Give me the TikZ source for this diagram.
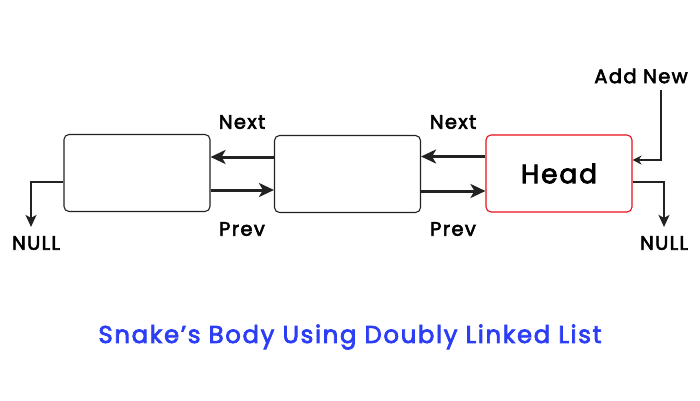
\documentclass[tikz,border=0pt]{standalone}
\usepackage{fontspec}
\setmainfont{Poppins}
\newfontfamily\lblfont[LetterSpace=7,FakeBold=3]{Poppins}
\usetikzlibrary{arrows.meta}
\definecolor{ttl}{HTML}{2B3DF5}
\definecolor{hd}{HTML}{E8101A}
\definecolor{ln}{HTML}{222222}
\tikzset{
  x=1pt,y=-1pt,
  nodebox/.style={draw=ln,line width=1.1pt,rounded corners=5pt,minimum width=146pt,minimum height=77pt,inner sep=0pt},
  headbox/.style={nodebox,draw=hd},
  bigarrow/.style={draw=ln,line width=3pt,-{Stealth[length=15pt,width=14pt,inset=4pt]}},
  thinarrow/.style={draw=ln,line width=2pt,-{Stealth[length=12pt,width=11pt,inset=3pt]}},
  addarrow/.style={draw=ln,line width=1.8pt,-{Stealth[length=9pt,width=9pt]}},
  lbl/.style={font=\lblfont\fontsize{19.5}{23}\selectfont,text=black,inner sep=0pt},
}
\begin{document}
\begin{tikzpicture}
\useasboundingbox (0,0) rectangle (700,400);
\node[nodebox] (b1) at (137,173) {};
\node[nodebox] (b2) at (347.5,174) {};
\node[headbox] (hd) at (559,173.5) {\lblfont\fontsize{26.5}{32}\selectfont Head};
% next / prev arrows
\draw[bigarrow] ([yshift=17pt]b2.west) -- ([yshift=17pt]b2.west -| b1.east);
\draw[bigarrow] ([yshift=-17pt]b1.east) -- ([yshift=-17pt]b1.east -| b2.west);
\draw[bigarrow] ([yshift=17pt]hd.west) -- ([yshift=17pt]hd.west -| b2.east);
\draw[bigarrow] ([yshift=-17pt]b2.east) -- ([yshift=-17pt]b2.east -| hd.west);
\node[lbl] (n1) at (242,122) {Next};
\node[lbl] (p1) at (242,229) {Prev};
\node[lbl] (n2) at (453,122) {Next};
\node[lbl] (p2) at (453,229) {Prev};
% left NULL
\node[lbl] (nl) at (36,243) {NULL};
\coordinate (lc) at (31,182);
\draw[thinarrow] (lc -| b1.west) -- (lc) -- ([yshift=9pt]nl.north -| lc);
% right NULL
\node[lbl] (nr) at (664,243) {NULL};
\coordinate (rc) at (664,182);
\draw[thinarrow] (rc -| hd.east) -- (rc) -- ([yshift=9pt]nr.north -| rc);
% add new
\node[lbl] (an) at (641,76) {Add New};
\coordinate (ac) at (661,160);
\draw[addarrow] ([yshift=-6pt]an.south -| ac) -- (ac) -- (ac -| hd.east);
% title
\node[font=\lblfont\fontsize{24.3}{28}\selectfont,text=ttl,inner sep=0pt] (title) at (350,337) {Snake’s Body Using Doubly Linked List};
\end{tikzpicture}
\end{document}
